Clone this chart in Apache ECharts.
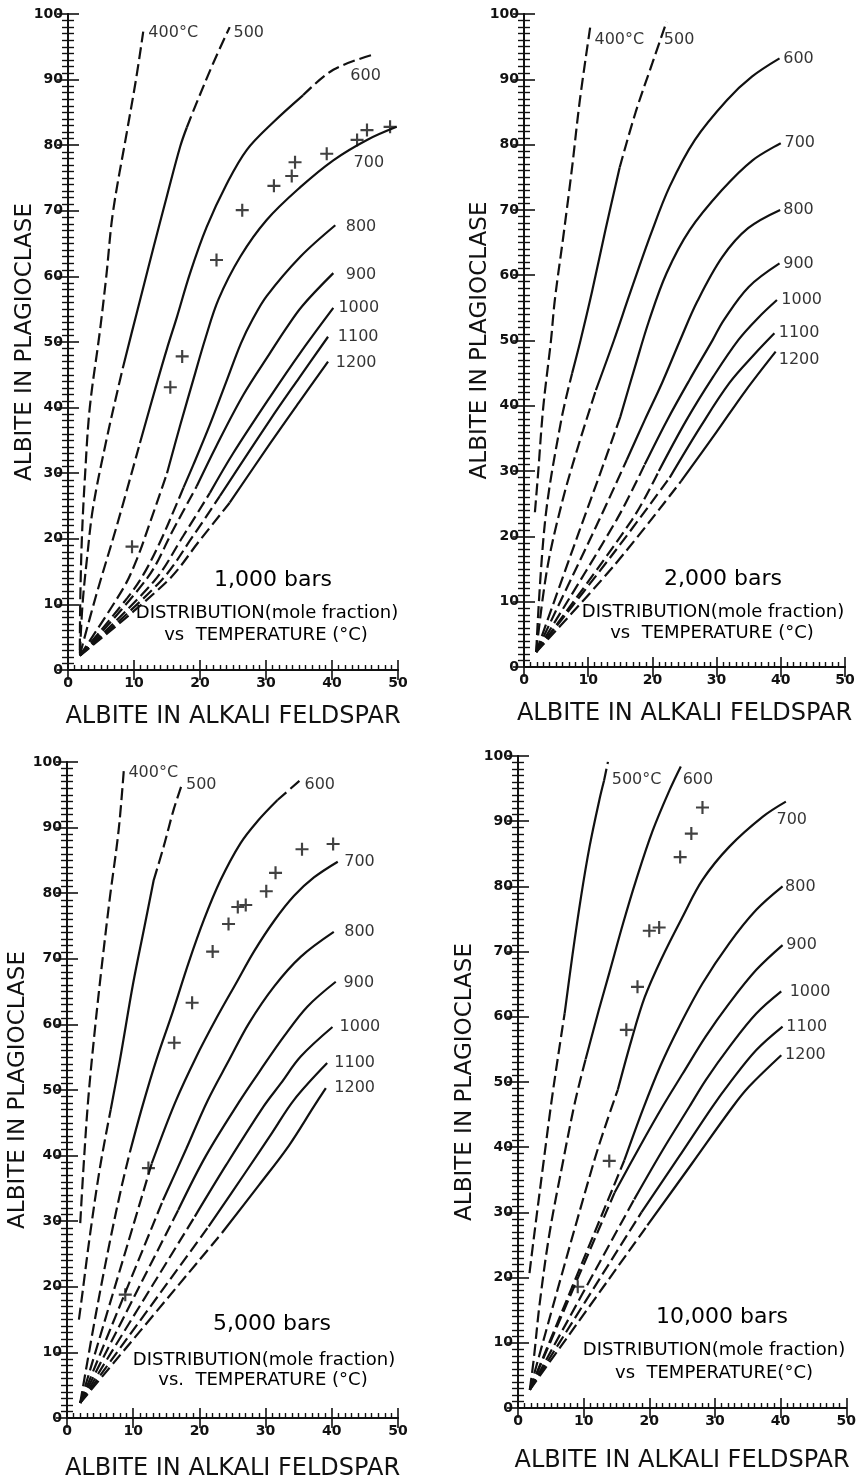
<!DOCTYPE html>
<html>
<head>
<meta charset="utf-8">
<script src="https://cdn.jsdelivr.net/npm/echarts@6/dist/echarts.min.js"></script>
<style>
  html, body { margin: 0; padding: 0; background: #fff; }
  #chart { width: 859px; height: 1483px; }
</style>
</head>
<body>
<div id="chart"></div>
<script>
// feldspar distribution curves, four pressures
var pressures = ['1,000 bars', '2,000 bars', '5,000 bars', '10,000 bars'];
var vsText = ['vs  TEMPERATURE (°C)', 'vs  TEMPERATURE (°C)', 'vs.  TEMPERATURE (°C)', 'vs  TEMPERATURE(°C)'];

// ---- 1,000 bars ----
var temps1000 = ['400°C', '500', '600', '700', '800', '900', '1000', '1100', '1200'];
var curves1000 = [
    [[1.8, 3], [1.85, 10], [2.1, 20], [2.6, 30], [3.3, 40], [4.8, 51.4], [5.8, 60], [6.8, 69.7], [8.9, 81.9], [10.3, 90], [11.4, 97.3]],
    [[1.8, 2.5], [2.2, 10], [2.9, 17.2], [3.8, 24.8], [5.7, 34.5], [7.6, 43], [8.3, 46], [9.6, 51.2], [11.2, 57.5], [13, 64.6], [15, 72.3], [17, 79.8], [18, 82.7], [19.3, 86], [22, 92.5], [24.5, 98]],
    [[1.8, 2.3], [4.3, 11.5], [7.4, 22], [10.9, 34.6], [13.4, 43.5], [15, 49], [16.5, 53.8], [18.5, 60.5], [21, 67.5], [24.1, 74.2], [27.1, 79.3], [31.1, 83.5], [35.6, 87.6], [40.2, 91.5], [46.2, 93.8]],
    [[1.8, 2.2], [8.4, 12.5], [10.4, 16.8], [12.4, 22.4], [15, 30], [17, 37.3], [19, 44.3], [20.8, 50.5], [22.8, 56.5], [26.1, 63], [30.1, 68.6], [35.2, 73.6], [40.2, 77.7], [45.3, 80.8], [49.8, 82.8]],
    [[1.8, 2.2], [9, 11], [11.4, 14.5], [13.9, 19.4], [16.5, 25.4], [17.5, 27.8], [19, 31.3], [21.5, 37.4], [24, 44], [26.2, 49.8], [28, 53.5], [30.1, 57], [35.2, 63], [40.5, 67.8]],
    [[1.8, 2.2], [12, 14], [16, 21.5], [19.5, 28], [22.5, 34.2], [26.6, 42], [30.6, 48.3], [33, 52], [35.5, 55.5], [40.2, 60.5]],
    [[1.8, 2.2], [13, 13.5], [17.5, 20.5], [21.5, 27], [25, 33], [30.6, 41.6], [35.3, 48.5], [40.2, 55.2]],
    [[1.8, 2.2], [14, 13.5], [19, 20.5], [23, 26.5], [30.6, 38.1], [35, 44.5], [39.4, 50.8]],
    [[1.8, 2.2], [15, 13.5], [20, 19.8], [24.5, 25.5], [30.6, 34.5], [35, 40.8], [39.4, 47]]
];
var solid1000 = [null, [46, 82.7], [34.6, 87.6], [30, 100], [27.8, 100], [28, 100], [27, 100], [26.5, 100], [25.5, 100]];
var labelAt1000 = [[12.1, 97.1], [25, 97.1], [42.7, 90.5], [43.2, 77.3], [42, 67.5], [42, 60.2], [40.9, 55.2], [40.8, 50.8], [40.5, 46.8]];
var crosses1000 = [[48.8, 82.8], [45.3, 82.3], [43.8, 80.8], [39.2, 78.7], [34.4, 77.4], [33.9, 75.3], [31.2, 73.8], [26.4, 70.1], [22.5, 62.5], [17.3, 47.8], [15.5, 43.1], [9.7, 18.8]];

// ---- 2,000 bars ----
var temps2000 = ['400°C', '500', '600', '700', '800', '900', '1000', '1100', '1200'];
var curves2000 = [
    [[1.7, 23.7], [2.2, 29.7], [3, 39.8], [4.2, 50], [4.8, 56.2], [6.2, 66.5], [7.5, 76.6], [8.7, 86.8], [10.3, 97.9]],
    [[1.9, 2.3], [3.3, 22.5], [5.8, 37.8], [7.5, 45], [8.8, 50], [10.6, 57.5], [12.7, 67], [14.9, 76.5], [17.4, 85], [20, 92.5], [22.2, 98.8]],
    [[1.9, 2.3], [3.6, 15], [6, 25.5], [8.5, 34], [11.2, 42.4], [14, 50], [16.5, 57.2], [19.8, 66.4], [22.7, 73.6], [26.6, 80.7], [31.6, 86.8], [35.5, 90.4], [39.8, 93.2]],
    [[1.9, 2.3], [8.5, 20.5], [12, 30], [15, 38.3], [17.3, 46], [19.5, 53.1], [22.2, 60.3], [25.8, 66.9], [30.8, 73], [35.6, 77.6], [40, 80.2]],
    [[1.9, 2.3], [11.7, 22.5], [16, 31.7], [18.8, 37.8], [21.5, 43.5], [24.3, 50], [27, 56], [30.9, 62.8], [34.9, 67.2], [39.9, 70]],
    [[1.9, 2.3], [14.4, 22.5], [18.8, 31], [22.3, 37.8], [25.8, 44], [29.4, 50.1], [31.1, 53.1], [35, 58.2], [39.8, 61.8]],
    [[1.9, 2.3], [16.8, 22.5], [21, 30], [25.3, 37.8], [29.5, 44.5], [33.4, 50.1], [36.5, 53.5], [39.4, 56.2]],
    [[1.9, 2.3], [14, 17.5], [22.7, 29], [27.5, 36.8], [32, 43.5], [36, 48], [39, 51.1]],
    [[1.9, 2.3], [14, 15.5], [24.5, 28.5], [30, 36], [34.5, 42.3], [39.2, 48.3]]
];
var solid2000 = [null, [45, 76.5], [42.4, 100], [38.3, 100], [31.7, 100], [31, 100], [30, 100], [29, 100], [28.5, 100]];
var labelAt2000 = [[10.9, 96], [21.7, 96], [40.3, 93.2], [40.5, 80.2], [40.3, 70], [40.3, 61.8], [40, 56.2], [39.6, 51.1], [39.6, 47]];
var crosses2000 = [];

// ---- 5,000 bars ----
var temps5000 = ['400°C', '500', '600', '700', '800', '900', '1000', '1100', '1200'];
var curves5000 = [
    [[2, 29.7], [2.5, 38.3], [3.2, 48.5], [4.2, 59.1], [5.3, 69.3], [6.5, 79.5], [7.8, 89.6], [8.6, 99]],
    [[1.8, 15], [2.2, 18], [3.5, 28.1], [5, 38.3], [6.6, 47], [8, 54.6], [10, 66.3], [11.6, 74.4], [13.1, 82], [14.6, 87.1], [16.1, 92.7], [17.4, 96.7]],
    [[2, 2.3], [4.3, 15.5], [6.5, 27], [8.3, 35.5], [9.5, 40.5], [11.3, 47.2], [13.5, 54.6], [16, 62], [18.4, 69.5], [20.7, 76], [23.2, 82], [26.2, 87.6], [28.8, 91], [31.8, 94.2], [35.3, 97.3]],
    [[2, 2.3], [12.8, 38.8], [16.3, 48], [19.5, 55], [22.6, 61], [25.5, 66.2], [28.3, 71.2], [31.3, 75.8], [34.3, 79.6], [37.3, 82.4], [40.9, 84.8]],
    [[2, 2.3], [14.5, 33.2], [18, 41], [21.2, 48.3], [24.5, 54.6], [27.5, 60.2], [31.3, 65.8], [35.3, 70.3], [40.3, 74.1]],
    [[2, 2.3], [16.8, 31.7], [21, 40], [26.2, 48.5], [29.2, 53], [32.8, 58.2], [36.3, 62.7], [40.6, 66.5]],
    [[2, 2.3], [19.3, 30.7], [24, 38.5], [29.7, 47.5], [32.3, 51], [35.3, 55.1], [40.1, 59.6]],
    [[2, 2.3], [21.4, 29.2], [27, 37.5], [31, 43.5], [34.3, 48.5], [39.3, 54.1]],
    [[2, 2.3], [23.4, 28.2], [29, 35.5], [33.5, 41.5], [37.3, 47.5], [39.1, 50.3]]
];
var solid5000 = [null, [47, 82], [40.5, 94.2], [38.8, 100], [33.2, 100], [31.7, 100], [30.7, 100], [29.2, 100], [28.2, 100]];
var labelAt5000 = [[9.2, 98.3], [17.9, 96.5], [35.8, 96.5], [41.8, 84.8], [41.8, 74.1], [41.7, 66.3], [41.1, 59.6], [40.3, 54.1], [40.3, 50.3]];
var crosses5000 = [[40.2, 87.5], [35.5, 86.7], [31.5, 83.1], [30.1, 80.3], [27, 78.2], [25.8, 77.9], [24.4, 75.3], [22, 71.1], [18.9, 63.3], [16.2, 57.2], [12.3, 38.1], [8.8, 18.8]];

// ---- 10,000 bars ----
var temps10000 = ['500°C', '600', '700', '800', '900', '1000', '1100', '1200'];
var curves10000 = [
    [[1.75, 20.7], [2.5, 26.8], [3.8, 37], [5.1, 47], [6.1, 53.9], [7.1, 60.5], [8.3, 69.5], [9.6, 78.4], [10.9, 86.1], [12.4, 93.3], [13.1, 96.2], [13.7, 99.1]],
    [[1.8, 2.8], [2.4, 7.5], [3.3, 16], [4.8, 26.8], [6.8, 37.5], [8.7, 47], [10.3, 53.5], [12.3, 61], [13.9, 66.7], [16, 74.3], [18, 81], [20.5, 88.5], [23.1, 94.8], [24.8, 98.4]],
    [[1.8, 2.8], [11.6, 37.9], [15.2, 48.8], [17.3, 56.5], [19.3, 63], [21.8, 68.8], [25.1, 75.4], [28.1, 81], [32.2, 86.1], [37.3, 90.7], [40.8, 93]],
    [[1.8, 2.8], [16.2, 38], [19.1, 46], [21.7, 52.5], [24.6, 58.6], [28.1, 65.1], [32.2, 71.3], [36.3, 76.4], [40.3, 80]],
    [[1.8, 2.8], [14.7, 33], [18.5, 40], [22, 46.2], [25.1, 51.3], [28.6, 57], [32.2, 62.1], [36.3, 67.2], [40.3, 71]],
    [[1.8, 2.8], [17.7, 32], [22, 39.5], [26.1, 46.2], [28.6, 50.3], [32.2, 55.4], [36.3, 60.5], [40.1, 63.9]],
    [[1.8, 2.8], [18.8, 30], [24.5, 38.5], [29.6, 46.2], [32.2, 49.8], [36.3, 54.9], [40.3, 58.5]],
    [[1.8, 2.8], [19.7, 28], [26.5, 37.5], [32.7, 46.2], [35.2, 49.3], [40.1, 54.1]]
];
var solid10000 = [[60.5, 96.2], [53.5, 100], [48.8, 100], [38, 100], [33, 100], [32, 100], [30, 100], [28, 100]];
var labelAt10000 = [[14.2, 96.3], [25, 96.3], [39.3, 90.2], [40.6, 80], [40.8, 71], [41.3, 63.9], [40.8, 58.5], [40.6, 54.1]];
var crosses10000 = [[28.1, 92.1], [26.4, 88.1], [24.7, 84.5], [20, 73.2], [21.5, 73.7], [18.2, 64.6], [16.5, 58], [13.9, 37.9], [9.1, 18.6]];

var panels = [
    { temps: temps1000, curves: curves1000, solid: solid1000, labelAt: labelAt1000, crosses: crosses1000 },
    { temps: temps2000, curves: curves2000, solid: solid2000, labelAt: labelAt2000, crosses: crosses2000 },
    { temps: temps5000, curves: curves5000, solid: solid5000, labelAt: labelAt5000, crosses: crosses5000 },
    { temps: temps10000, curves: curves10000, solid: solid10000, labelAt: labelAt10000, crosses: crosses10000 }
];

// layout (pixels)
var grids = [
    { left: 68, top: 14, width: 330, height: 656 },
    { left: 524, top: 14, width: 321, height: 653 },
    { left: 67, top: 762, width: 331, height: 656 },
    { left: 518, top: 756, width: 329, height: 652 }
];
var yNameGap = [31, 32, 37, 41];
var xNameGap = [35, 35, 39, 41];
var textPos = [
    { bars: [273, 580], dist: [267, 613], vs: [266, 635] },
    { bars: [723, 579], dist: [713, 612], vs: [712, 633] },
    { bars: [272, 1324], dist: [264, 1360], vs: [263, 1380] },
    { bars: [722, 1317], dist: [714, 1350], vs: [714, 1373] }
];

var INK = '#111';
var FONT = 'DejaVu Sans';
var PLUS = 'path://M5,0 L7,0 L7,5 L12,5 L12,7 L7,7 L7,12 L5,12 L5,7 L0,7 L0,5 L5,5 Z';

// cut a curve into solid / dashed pieces (solid where y is inside the range)
function splitCurve(pts, range) {
    var segs = [];
    var cur = [pts[0]];
    var curSolid = null;
    for (var i = 1; i < pts.length; i++) {
        var mid = (pts[i - 1][1] + pts[i][1]) / 2;
        var s = !!range && mid >= range[0] && mid <= range[1];
        if (curSolid !== null && s !== curSolid) {
            segs.push({ data: cur, solid: curSolid });
            cur = [pts[i - 1]];
        }
        curSolid = s;
        cur.push(pts[i]);
    }
    segs.push({ data: cur, solid: curSolid });
    return segs;
}

var xAxes = [], yAxes = [], series = [], graphics = [];

panels.forEach(function (p, k) {
    var axisLine = { show: true, lineStyle: { color: INK, width: 2 } };
    var tickLabel = { color: INK, fontSize: 14, fontWeight: 'bold', fontFamily: FONT };
    xAxes.push({
        gridIndex: k, type: 'value', position: 'bottom', min: 0, max: 50, interval: 10,
        axisLine: axisLine,
        axisTick: { inside: true, length: 10, lineStyle: { color: INK, width: 1.6 } },
        minorTick: { show: true, splitNumber: 10, length: 5, lineStyle: { color: INK, width: 1.4 } },
        axisLabel: Object.assign({ margin: 6 }, tickLabel),
        splitLine: { show: false },
        name: 'ALBITE IN ALKALI FELDSPAR', nameLocation: 'middle', nameGap: xNameGap[k],
        nameMoveOverlap: false,
        nameTextStyle: { color: INK, fontSize: 24, fontFamily: FONT }
    });
    xAxes.push({
        gridIndex: k, type: 'value', position: 'top', min: 0, max: 50, interval: 10,
        axisLine: axisLine,
        axisTick: { inside: true, length: 10, lineStyle: { color: INK, width: 1.6 } },
        axisLabel: { show: false },
        splitLine: { show: false }
    });
    yAxes.push({
        gridIndex: k, type: 'value', position: 'left', min: 0, max: 100, interval: 10,
        axisLine: axisLine,
        axisTick: { inside: true, length: 11, lineStyle: { color: INK, width: 1.6 } },
        minorTick: { show: true, splitNumber: 10, length: 6, lineStyle: { color: INK, width: 1.4 } },
        axisLabel: Object.assign({ margin: 5 }, tickLabel),
        splitLine: { show: false },
        name: 'ALBITE IN PLAGIOCLASE', nameLocation: 'middle', nameGap: yNameGap[k],
        nameMoveOverlap: false,
        nameTextStyle: { color: INK, fontSize: 23, fontFamily: FONT }
    });
    yAxes.push({
        gridIndex: k, type: 'value', position: 'right', min: 0, max: 100, interval: 10,
        axisLine: axisLine,
        axisTick: { inside: true, length: 11, lineStyle: { color: INK, width: 1.6 } },
        minorTick: { show: true, splitNumber: 10, length: 6, lineStyle: { color: INK, width: 1.4 } },
        axisLabel: { show: false },
        splitLine: { show: false }
    });

    p.curves.forEach(function (c, j) {
        splitCurve(c, p.solid[j]).forEach(function (seg) {
            series.push({
                type: 'line', xAxisIndex: 2 * k, yAxisIndex: 2 * k,
                data: seg.data, smooth: 0.35, symbol: 'none', silent: true,
                lineStyle: { color: INK, width: 2.2, type: seg.solid ? 'solid' : [12, 5] }
            });
        });
    });

    // temperature labels at curve ends
    series.push({
        type: 'scatter', xAxisIndex: 2 * k, yAxisIndex: 2 * k, silent: true,
        symbolSize: 1, itemStyle: { color: 'rgba(0,0,0,0)' },
        data: p.labelAt.map(function (pt, i) { return { name: p.temps[i], value: pt }; }),
        label: {
            show: true, position: 'right', distance: 0, formatter: '{b}',
            color: '#000', fontSize: 16, fontFamily: FONT
        }
    });

    if (p.crosses.length) {
        series.push({
            type: 'scatter', xAxisIndex: 2 * k, yAxisIndex: 2 * k, silent: true,
            symbol: PLUS, symbolSize: 13, itemStyle: { color: INK },
            data: p.crosses
        });
    }

    var t = textPos[k];
    graphics.push(
        { type: 'text', x: t.bars[0], y: t.bars[1], style: { text: pressures[k], fill: '#000', fontSize: 22, fontFamily: FONT, align: 'center', verticalAlign: 'middle' } },
        { type: 'text', x: t.dist[0], y: t.dist[1], style: { text: 'DISTRIBUTION(mole fraction)', fill: '#000', fontSize: 18, fontFamily: FONT, align: 'center', verticalAlign: 'middle' } },
        { type: 'text', x: t.vs[0], y: t.vs[1], style: { text: vsText[k], fill: '#000', fontSize: 18, fontFamily: FONT, align: 'center', verticalAlign: 'middle' } }
    );
});

var myChart = echarts.init(document.getElementById('chart'));
var option = {
    backgroundColor: '#fff',
    animation: false,
    grid: grids,
    xAxis: xAxes,
    yAxis: yAxes,
    series: series,
    graphic: graphics
};
myChart.setOption(option);
</script>
</body>
</html>
